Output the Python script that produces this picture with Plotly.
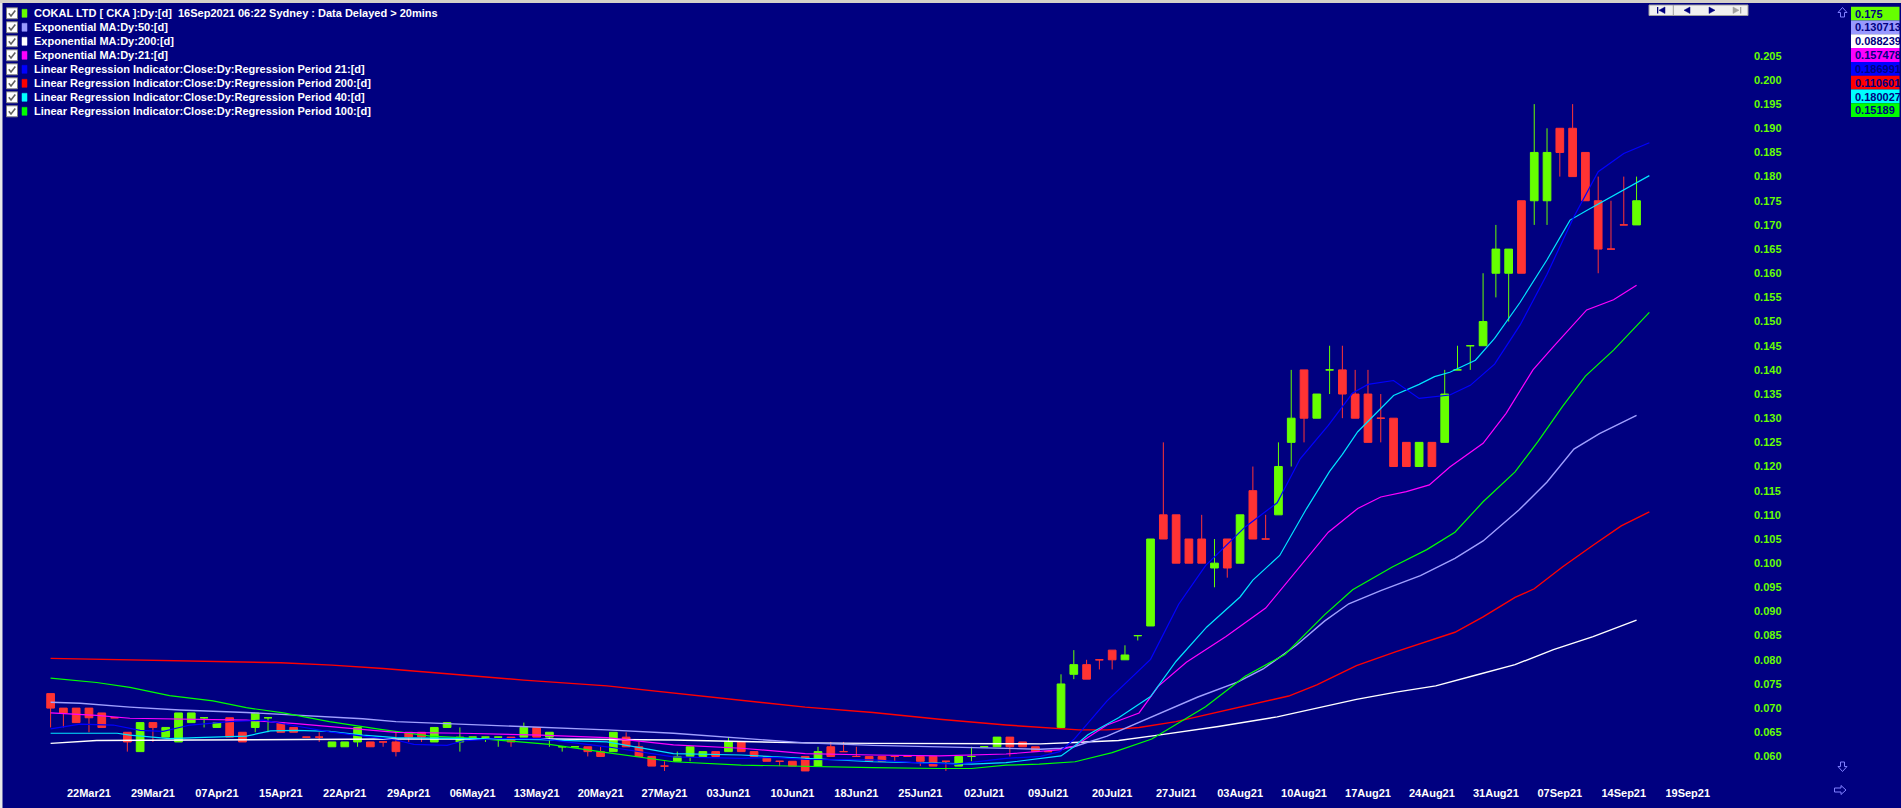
import plotly.graph_objects as go

W, H = 1901, 808
BG = "#000080"
FONT = "Liberation Sans"
UP = "#66ff00"
DOWN = "#ff3333"

# ---------------- data ----------------
x_tick_labels = ["22Mar21", "29Mar21", "07Apr21", "15Apr21", "22Apr21", "29Apr21", "06May21",
                 "13May21", "20May21", "27May21", "03Jun21", "10Jun21", "18Jun21", "25Jun21",
                 "02Jul21", "09Jul21", "20Jul21", "27Jul21", "03Aug21", "10Aug21", "17Aug21",
                 "24Aug21", "31Aug21", "07Sep21", "14Sep21", "19Sep21"]
x_tick_bars = [3, 8, 13, 18, 23, 28, 33, 38, 43, 48, 53, 58, 63, 68, 73, 78, 83, 88, 93,
               98, 103, 108, 113, 118, 123, 128]
y_ticks = [0.060, 0.065, 0.070, 0.075, 0.080, 0.085, 0.090, 0.095, 0.100, 0.105, 0.110,
           0.115, 0.120, 0.125, 0.130, 0.135, 0.140, 0.145, 0.150, 0.155, 0.160, 0.165,
           0.170, 0.175, 0.180, 0.185, 0.190, 0.195, 0.200, 0.205]

bar_index = list(range(125))
open_ = [.073, .070, .070, .070, .069, .068, .065, .061, .067, .064,
         .063, .067, .068, .066, .068, .065, .066, .068, .067, .066,
         .064, .064, .062, .062, .063, .063, .063, .063, .065, .065,
         .063, .066, .063, .064, .064, .064, .064, .064, .066, .064,
         .062, .062, .062, .061, .061, .064, .062, .060, .058, .059,
         .060, .060, .061, .061, .063, .061, .060, .059, .059, .060,
         .058, .062, .061, .060, .060, .060, .060, .060, .060, .060,
         .059, .058, .060, .062, .062, .064, .063, .062, .061, .066,
         .077, .079, .080, .082, .080, .085, .087, .110, .110, .105,
         .105, .099, .105, .100, .115, .105, .110, .125, .140, .130,
         .140, .140, .135, .135, .130, .130, .125, .120, .125, .125,
         .140, .145, .145, .160, .165, .160, .175, .185, .190, .190,
         .185, .175, .165, .170, .170]
high = [.073, .070, .070, .070, .069, .068, .065, .067, .067, .066,
        .069, .069, .068, .067, .068, .065, .069, .068, .067, .066,
        .064, .065, .063, .063, .066, .063, .063, .065, .065, .065,
        .066, .067, .066, .064, .064, .064, .064, .067, .066, .065,
        .062, .062, .062, .062, .065, .065, .063, .060, .059, .061,
        .062, .061, .061, .064, .063, .061, .060, .059, .059, .060,
        .062, .063, .063, .062, .060, .060, .060, .060, .060, .060,
        .059, .060, .062, .062, .064, .064, .063, .062, .061, .077,
        .082, .080, .080, .082, .083, .085, .105, .125, .110, .105,
        .110, .105, .105, .110, .120, .110, .125, .140, .140, .135,
        .145, .145, .140, .140, .135, .130, .125, .125, .125, .140,
        .145, .145, .160, .170, .165, .175, .195, .190, .190, .195,
        .185, .180, .175, .180, .180]
low = [.066, .066, .067, .065, .066, .068, .061, .061, .063, .064,
       .063, .067, .066, .066, .064, .063, .065, .065, .065, .065,
       .064, .063, .062, .062, .062, .062, .062, .060, .063, .063,
       .063, .066, .061, .064, .063, .062, .062, .064, .064, .062,
       .061, .062, .060, .060, .061, .062, .060, .058, .057, .059,
       .059, .060, .060, .061, .061, .060, .059, .058, .058, .057,
       .058, .060, .061, .060, .059, .059, .059, .060, .058, .058,
       .057, .058, .059, .062, .062, .060, .062, .061, .061, .066,
       .076, .076, .078, .078, .080, .084, .087, .105, .100, .100,
       .100, .095, .097, .100, .105, .105, .110, .120, .125, .130,
       .135, .130, .130, .125, .125, .120, .120, .120, .120, .125,
       .140, .140, .145, .155, .150, .160, .170, .170, .180, .180,
       .175, .160, .165, .170, .170]
close = [.070, .069, .067, .068, .066, .068, .063, .067, .066, .066,
         .069, .069, .068, .067, .064, .063, .069, .068, .065, .065,
         .064, .064, .063, .063, .066, .062, .063, .061, .064, .064,
         .066, .067, .064, .064, .064, .064, .063, .066, .064, .065,
         .062, .062, .061, .060, .065, .062, .060, .058, .058, .060,
         .062, .061, .060, .063, .061, .060, .059, .059, .058, .057,
         .061, .060, .061, .060, .059, .059, .060, .060, .059, .058,
         .059, .060, .060, .062, .064, .062, .062, .061, .061, .075,
         .079, .076, .080, .080, .081, .085, .105, .105, .100, .100,
         .100, .100, .099, .110, .105, .105, .120, .130, .130, .135,
         .140, .135, .130, .125, .130, .120, .120, .125, .120, .135,
         .140, .145, .150, .165, .160, .175, .185, .175, .185, .180,
         .175, .165, .165, .170, .175]
candle_color = list("rrrrrrrgrg" "ggggrrggrr" "rrgggrrrrr" "ggggggrgrg"
                    "ggrrgrrrrg" "ggrgrrrrrr" "grrrrrrrrr" "rggggrrrrg"
                    "grrrgggrrr" "rgrgrrggrg" "grrrrrrgrg" "gggggrggrr"
                    "rrrrg")

# indicator lines (bar position, value)
ema50_x = [0, 2.3, 6.2, 10.1, 15.3, 19.2, 24.4, 27, 31, 34.9, 39, 43.5, 48.7, 54, 59, 64.3,
           69.5, 74.7, 77.4, 79, 80, 82.6, 86.6, 89.7, 92.8, 94.8, 97.4, 99.6, 101.5, 104,
           107.1, 109.8, 112, 114.8, 117, 119.1, 121.1, 124]
ema50_y = [.0712, .0710, .0702, .0696, .0691, .0686, .0678, .0672, .0668, .0664, .0661, .0655,
           .0648, .0637, .0628, .0623, .0620, .0616, .0615, .0617, .0620, .0642, .0687, .0723,
           .0754, .0781, .0830, .0880, .0916, .0943, .0974, .1010, .1046, .1110, .1168, .1236,
           .1268, .1306]

ema200_x = [0, 1.5, 3.6, 11.4, 16.6, 27, 39, 48.7, 54, 59, 64.3, 77.4, 80, 83.5, 86.6, 91.3,
            95.9, 99, 102.1, 105.2, 108.3, 111.4, 114.5, 117.5, 120.6, 124]
ema200_y = [.0627, .0630, .0633, .0634, .0635, .0636, .0636, .0634, .0631, .0628, .0627, .0626,
            .0629, .0633, .0644, .0662, .0682, .0700, .0718, .0733, .0746, .0768, .0790, .0821,
            .0848, .0882]

ema21_x = [0, 3.6, 6.2, 11.4, 15.3, 19.2, 24.4, 27, 32.2, 38.3, 43.5, 48.7, 54, 59, 64.3, 69.5,
           74.7, 77.4, 79, 80.1, 82.6, 85.1, 86.6, 88.8, 91.9, 95, 97.1, 99.9, 102.2, 104, 106,
           107.8, 109.4, 112, 113.8, 115.9, 117.5, 119.1, 120.1, 122.2, 124]
ema21_y = [.0690, .0685, .0679, .0677, .0675, .0668, .0655, .0650, .0648, .0644, .0639, .0624,
           .0617, .0606, .0603, .0601, .0605, .0610, .0614, .0622, .0665, .0690, .0745, .0795,
           .0848, .0907, .0974, .1064, .1113, .1137, .1148, .1162, .1199, .1248, .1310, .1400,
           .1448, .1496, .1524, .1545, .1575]

lr21_x = [0, 2.3, 4.9, 7, 8.8, 10.9, 14, 16.6, 19.2, 21.8, 24.4, 27, 28.4, 31, 32.2, 34.9,
          38.3, 43.5, 48.7, 54, 56.5, 59, 64.3, 68.2, 70.8, 74.7, 77.4, 78.9, 80, 82.6, 86,
          88.2, 90.3, 93.4, 95.9, 97.7, 99.9, 101.8, 103, 105, 107, 109.4, 111, 112.9, 114.9,
          117, 119.1, 121, 123, 125]
lr21_y = [.0657, .0667, .0665, .0654, .0652, .0665, .0672, .0675, .0663, .0651, .0642, .0634,
          .0625, .0623, .0632, .0637, .0637, .0620, .0599, .0596, .0598, .0594, .0593, .0586,
          .0584, .0596, .0600, .0610, .0635, .0715, .0801, .0915, .0995, .1075, .1125, .1216,
          .1285, .1352, .1370, .1378, .1341, .1348, .1368, .1412, .1493, .1598, .1717, .1810,
          .1848, .1870]

lr200_x = [0, 6, 10, 15, 18, 22, 26, 31, 37, 43.5, 48.7, 54, 59, 64.3, 69.5, 74.7, 77.3, 80.4,
           82.6, 85.1, 88, 91.3, 94.7, 96.8, 99, 102.1, 105.2, 108.3, 109.8, 112, 114.5, 116,
           118.2, 120.6, 122.8, 125]
lr200_y = [.0803, .0800, .0797, .0796, .0794, .0789, .0782, .0771, .0758, .0746, .0731, .0717,
           .0702, .0691, .0677, .0665, .0660, .0655, .0655, .0660, .0672, .0692, .0712, .0725,
           .0748, .0788, .0817, .0844, .0857, .0889, .0929, .0947, .0992, .1037, .1077, .1106]

lr40_x = [0, 5.2, 6.2, 9.3, 11.4, 15.3, 17.2, 19.2, 21.8, 24.4, 27, 32.2, 38.3, 43.5, 48.7, 54,
          59, 64.3, 69.5, 72, 74.7, 77.4, 79, 80, 81.1, 83.5, 86, 88, 90.4, 93, 94, 96.1, 98.2,
          100, 101, 102.2, 105, 107, 108.2, 109.4, 111.4, 112.9, 114.9, 117, 118.8, 120.1,
          122.5, 125]
lr40_y = [.0648, .0648, .0644, .0637, .0639, .0642, .0653, .0654, .0652, .0644, .0639, .0637,
          .0635, .0630, .0606, .0603, .0596, .0589, .0586, .0584, .0587, .0596, .0601, .0620,
          .0645, .0680, .0724, .0797, .0868, .0930, .0965, .1016, .1113, .1190, .1225, .1272,
          .1347, .1370, .1386, .1395, .1420, .1465, .1540, .1628, .1710, .1730, .1765, .1802]

lr100_x = [0, 3.6, 6.2, 9.3, 12.7, 15.3, 18.2, 21.8, 25.8, 29.7, 33.6, 37, 39, 43.5, 48.7, 54,
           59, 64.3, 69.5, 72, 74.7, 77.3, 80.1, 83, 86.1, 87.6, 90.3, 93.4, 96.5, 99.6, 101.8,
           104.9, 107.6, 109.8, 112, 114.5, 116.3, 118.2, 120, 122.2, 125]
lr100_y = [.0762, .0753, .0743, .0726, .0715, .0701, .0690, .0672, .0656, .0642, .0637, .0630,
           .0625, .0608, .0589, .0582, .0579, .0577, .0575, .0575, .0582, .0584, .0589, .0608,
           .0636, .0660, .0703, .0766, .0811, .0893, .0945, .0992, .1028, .1064, .1127, .1189,
           .1252, .1324, .1387, .1441, .1519]

legend_rows = [
    ("COKAL LTD [ CKA ]:Dy:[d]  16Sep2021 06:22 Sydney : Data Delayed > 20mins", UP),
    ("Exponential MA:Dy:50:[d]", "#9999ff"),
    ("Exponential MA:Dy:200:[d]", "#ffffff"),
    ("Exponential MA:Dy:21:[d]", "#ff00ff"),
    ("Linear Regression Indicator:Close:Dy:Regression Period 21:[d]", "#0000ff"),
    ("Linear Regression Indicator:Close:Dy:Regression Period 200:[d]", "#ff0000"),
    ("Linear Regression Indicator:Close:Dy:Regression Period 40:[d]", "#00ffff"),
    ("Linear Regression Indicator:Close:Dy:Regression Period 100:[d]", "#00ff00"),
]
value_boxes = [("0.175", UP), ("0.130713", "#9999ff"), ("0.088239", "#ffffff"),
               ("0.157478", "#ff00ff"), ("0.186991", "#0000ff"), ("0.110601", "#ff0000"),
               ("0.180027", "#00ffff"), ("0.15189", "#00ff00")]

# ---------------- layout geometry (pixels) ----------------
PL, PR, PT, PB = 5, 1751, 4, 775          # plot area
X0_PX, BAR_PX = 50.6, 12.79               # first bar position, bar spacing
P_TOP_PX, P_TOP, PX_PER_UNIT = 55.8, 0.205, 4832.0


def fx(px):
    return px / W


def fy(py):
    return 1 - py / H


x_range = [(PL - X0_PX) / BAR_PX, (PR - X0_PX) / BAR_PX]
y_range = [P_TOP - (PB - P_TOP_PX) / PX_PER_UNIT, P_TOP + (P_TOP_PX - PT) / PX_PER_UNIT]

fig = go.Figure()

lines = [
    (lr200_x, lr200_y, "#ff0000", 1.4),
    (ema200_x, ema200_y, "#ffffff", 1.4),
    (ema50_x, ema50_y, "#a0a0ff", 1.4),
    (lr100_x, lr100_y, "#00ff00", 1.2),
    (ema21_x, ema21_y, "#ff00ff", 1.2),
    (lr40_x, lr40_y, "#00e5ff", 1.2),
    (lr21_x, lr21_y, "#0000ff", 1.2),
]
for xs, ys, col, w in lines:
    fig.add_trace(go.Scatter(x=xs, y=ys, mode="lines", line=dict(color=col, width=w),
                             hoverinfo="skip", showlegend=False))

for tag, col in (("g", UP), ("r", DOWN)):
    idx = [i for i in bar_index if candle_color[i] == tag]
    fig.add_trace(go.Candlestick(
        x=[bar_index[i] for i in idx],
        open=[open_[i] for i in idx], high=[high[i] for i in idx],
        low=[low[i] for i in idx], close=[close[i] for i in idx],
        increasing=dict(line=dict(color=col, width=1), fillcolor=col),
        decreasing=dict(line=dict(color=col, width=1), fillcolor=col),
        whiskerwidth=0, hoverinfo="skip", showlegend=False))

shapes = []
annotations = []

# top border strip and left edge
shapes.append(dict(type="rect", xref="paper", yref="paper", x0=0, x1=1, y0=fy(3), y1=1,
                   fillcolor="#d4d0c8", line=dict(width=0), layer="above"))
shapes.append(dict(type="rect", xref="paper", yref="paper", x0=0, x1=fx(2.5), y0=0, y1=fy(3),
                   fillcolor="#e8e8e8", line=dict(width=0), layer="above"))

# legend rows
for i, (txt, col) in enumerate(legend_rows):
    yc = 13.3 + 14 * i
    shapes.append(dict(type="rect", xref="paper", yref="paper", x0=fx(6.5), x1=fx(17.5),
                       y0=fy(yc + 5.5), y1=fy(yc - 5.5), fillcolor="#ffffff",
                       line=dict(color="#808080", width=1), layer="above"))
    shapes.append(dict(type="path", xref="paper", yref="paper",
                       path=f"M {fx(8.8)},{fy(yc)} L {fx(11)},{fy(yc + 2.6)} L {fx(15.3)},{fy(yc - 2.8)}",
                       line=dict(color="#606060", width=1.6), layer="above"))
    shapes.append(dict(type="rect", xref="paper", yref="paper", x0=fx(22), x1=fx(27),
                       y0=fy(yc + 4), y1=fy(yc - 4), fillcolor=col,
                       line=dict(color=col, width=0.5), layer="above"))
    annotations.append(dict(text=txt, xref="paper", yref="paper", x=fx(31.5), y=fy(yc),
                            xanchor="left", yanchor="middle", showarrow=False,
                            font=dict(family=FONT, size=11, color="#ffffff", weight="bold")))

# value boxes on the right
for i, (txt, col) in enumerate(value_boxes):
    top = 6.7 + 13.8 * i
    shapes.append(dict(type="rect", xref="paper", yref="paper", x0=fx(1851), x1=fx(1899.5),
                       y0=fy(top + 13.8), y1=fy(top), fillcolor=col, line=dict(width=0),
                       layer="above"))
    annotations.append(dict(text=txt, xref="paper", yref="paper", x=fx(1852.5), y=fy(top + 7),
                            xanchor="left", yanchor="middle", showarrow=False,
                            font=dict(family=FONT, size=11, color=BG, weight="bold")))

# navigation bar
shapes.append(dict(type="rect", xref="paper", yref="paper", x0=fx(1649), x1=fx(1748),
                   y0=fy(15.5), y1=fy(5), fillcolor="#f0f0f0",
                   line=dict(color="#a0a0a0", width=1), layer="above"))
shapes.append(dict(type="line", xref="paper", yref="paper", x0=fx(1673.3), x1=fx(1673.3),
                   y0=fy(15.5), y1=fy(5), line=dict(color="#a0a0a0", width=1), layer="above"))


def tri(pts, color):
    p = "M " + " L ".join(f"{fx(a)},{fy(b)}" for a, b in pts) + " Z"
    return dict(type="path", xref="paper", yref="paper", path=p, fillcolor=color,
                line=dict(color=color, width=0.5), layer="above")


shapes.append(tri([(1665, 7), (1665, 13.5), (1659, 10.25)], BG))
shapes.append(dict(type="rect", xref="paper", yref="paper", x0=fx(1657), x1=fx(1658.3),
                   y0=fy(13.5), y1=fy(7), fillcolor=BG, line=dict(width=0), layer="above"))
shapes.append(tri([(1690, 7), (1690, 13.5), (1684, 10.25)], BG))
shapes.append(tri([(1709, 7), (1709, 13.5), (1715, 10.25)], BG))
shapes.append(tri([(1733, 7), (1733, 13.5), (1739, 10.25)], "#a0a0a0"))
shapes.append(dict(type="rect", xref="paper", yref="paper", x0=fx(1740), x1=fx(1741.3),
                   y0=fy(13.5), y1=fy(7), fillcolor="#a0a0a0", line=dict(width=0), layer="above"))


def outline(pts):
    p = "M " + " L ".join(f"{fx(a)},{fy(b)}" for a, b in pts) + " Z"
    return dict(type="path", xref="paper", yref="paper", path=p,
                line=dict(color="#8080ff", width=1), layer="above")


shapes.append(outline([(1842.5, 7.5), (1847, 12.5), (1844.5, 12.5), (1844.5, 17),
                       (1840.5, 17), (1840.5, 12.5), (1838, 12.5)]))
shapes.append(outline([(1842.5, 771.5), (1847, 766.5), (1844.5, 766.5), (1844.5, 762),
                       (1840.5, 762), (1840.5, 766.5), (1838, 766.5)]))
shapes.append(outline([(1846, 790), (1841, 785.5), (1841, 788), (1834.5, 788),
                       (1834.5, 792), (1841, 792), (1841, 794.5)]))

fig.update_layout(
    width=W, height=H, autosize=False,
    margin=dict(l=0, r=0, t=0, b=0, pad=0),
    paper_bgcolor=BG, plot_bgcolor=BG,
    boxgap=0.14, showlegend=False, hovermode=False,
    shapes=shapes, annotations=annotations,
    xaxis=dict(domain=[fx(PL), fx(PR)], range=x_range, showgrid=False, zeroline=False,
               showline=False, tickmode="array", tickvals=x_tick_bars, ticktext=x_tick_labels,
               ticks="", ticklabelstandoff=10,
               tickfont=dict(family=FONT, size=11, color="#ffffff", weight="bold"),
               rangeslider=dict(visible=False), fixedrange=True),
    yaxis=dict(domain=[fy(PB), fy(PT)], range=y_range, side="right", showgrid=False,
               zeroline=False, showline=False, tickmode="array", tickvals=y_ticks,
               ticktext=[f"{v:.3f}" for v in y_ticks], ticks="", ticklabelstandoff=2,
               tickfont=dict(family=FONT, size=11, color=UP, weight="bold"), fixedrange=True),
)

fig.write_html(
    "out.html",
    config={"displayModeBar": False},
    post_script="document.body.style.margin='0';document.body.style.overflow='hidden';"
                "document.body.style.background='#000080';",
)
